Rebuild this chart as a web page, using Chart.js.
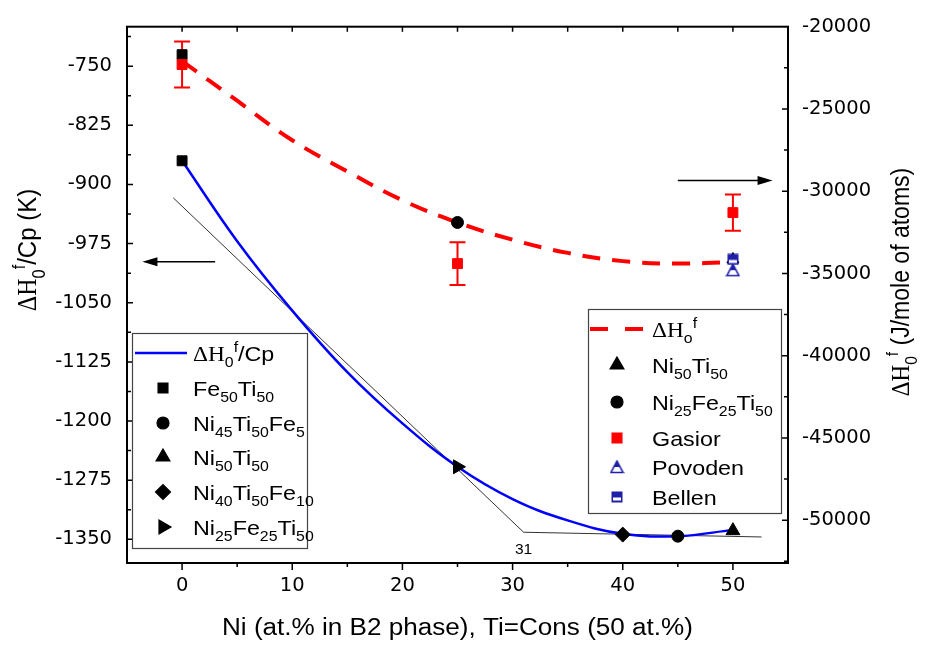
<!DOCTYPE html>
<html>
<head>
<meta charset="utf-8">
<script src="https://cdn.jsdelivr.net/npm/chart.js@4.4.1/dist/chart.umd.min.js"></script>
<style>
  html, body { margin: 0; padding: 0; background: #fff; }
  #graph_1 { display: block; }
</style>
</head>
<body>
<canvas id="graph_1" width="925" height="645"></canvas>
<script>
// axis ticks
var xTicks = [0, 10, 20, 30, 40, 50];
var yLeftTicks = [-750, -825, -900, -975, -1050, -1125, -1200, -1275, -1350];
var yRightTicks = [-20000, -25000, -30000, -35000, -40000, -45000, -50000];

// fitted curves
var fitX = [0, 5, 10, 15, 20, 25, 30, 35, 40, 45, 50];
var fitCp = [-870, -972, -1060, -1138, -1203, -1258, -1299, -1326, -1343, -1346, -1338];
var fitH = [-22100, -24500, -26900, -28800, -30550, -31900, -32950, -33750, -34250, -34400, -34300];

// tangent construction (thin line)
var tangentX = [-0.8, 31, 52.6];
var tangentCp = [-917, -1341, -1347];

// left axis points, dH/Cp (K)
var fe50X = [0], fe50Cp = [-870];
var ni45X = [45], ni45Cp = [-1346];
var ni50X = [50], ni50Cp = [-1339];
var ni40X = [40], ni40Cp = [-1344];
var ni25X = [25], ni25Cp = [-1258];

// right axis points, dH (J/mole of atoms)
var fe50HX = [0], fe50H = [-21700];
var ni50HX = [50], ni50H = [-34150];
var ni25HX = [25], ni25H = [-31900];
var gasiorX = [0, 25, 50], gasiorH = [-22300, -34400, -31300], gasiorErr = [1400, 1300, 1100];
var povodenX = [50], povodenH = [-34800];
var bellenX = [50], bellenH = [-34150];

// axis pointer arrows: [x from, x to, y]
var arrowLeft = [3.0, -3.6, -998];
var arrowRight = [45, 53.6, -29350];
var label31 = [31, -1362];

var SANS = '"Liberation Sans", Arial, sans-serif';
var SERIF = '"Liberation Serif", "Times New Roman", serif';
var STRETCH = 1.11;
var BLUE2 = '#1f1fa8';

function pts(xs, ys) {
  return xs.map(function (x, i) { return { x: x, y: ys[i] }; });
}

// custom marker images
function makePovoden() {
  var c = document.createElement('canvas');
  c.width = 15; c.height = 14;
  var g = c.getContext('2d');
  g.beginPath();
  g.moveTo(7.5, 1); g.lineTo(13.5, 12.5); g.lineTo(1.5, 12.5); g.closePath();
  g.fillStyle = '#fff'; g.fill();
  g.save(); g.clip();
  g.fillStyle = BLUE2; g.fillRect(0, 0, 15, 7);
  g.restore();
  g.lineWidth = 1.6; g.strokeStyle = BLUE2; g.stroke();
  return c;
}
function makeBellen() {
  var c = document.createElement('canvas');
  c.width = 12; c.height = 12;
  var g = c.getContext('2d');
  g.fillStyle = BLUE2; g.fillRect(0.5, 0.5, 11, 11);
  g.fillStyle = '#fff'; g.fillRect(2, 6.5, 8, 3);
  return c;
}
var povodenImg = makePovoden();
var bellenImg = makeBellen();

// text with _{sub} and ^{sup}
function parseRich(str) {
  var out = [], re = /_\{([^}]*)\}|\^\{([^}]*)\}|([^_^]+)/g, m;
  while ((m = re.exec(str))) {
    if (m[1] !== undefined) out.push({ t: m[1], k: 'sub' });
    else if (m[2] !== undefined) out.push({ t: m[2], k: 'sup' });
    else {
      var s = m[3];
      if (s.indexOf('ΔH') === 0) { out.push({ t: 'ΔH', k: 'serif' }); s = s.slice(2); }
      if (s) out.push({ t: s, k: '' });
    }
  }
  return out;
}
function runFont(r, size) {
  var s = (r.k === 'sub' || r.k === 'sup') ? size * 0.68 : size;
  return s.toFixed(1) + 'px ' + (r.k === 'serif' ? SERIF : SANS);
}
function drawRich(c, str, x, y, size, align, rotate) {
  var runs = parseRich(str);
  c.save();
  c.translate(x, y);
  if (rotate) { c.rotate(-Math.PI / 2); c.scale(1, STRETCH); } else { c.scale(STRETCH, 1); }
  var w = 0;
  runs.forEach(function (r) { c.font = runFont(r, size); w += c.measureText(r.t).width; });
  var cx = align === 'center' ? -w / 2 : 0;
  c.textAlign = 'left'; c.textBaseline = 'alphabetic'; c.fillStyle = '#000';
  runs.forEach(function (r) {
    c.font = runFont(r, size);
    var dy = r.k === 'sub' ? size * 0.33 : (r.k === 'sup' ? -size * 0.42 : 0);
    c.fillText(r.t, cx, dy);
    cx += c.measureText(r.t).width;
  });
  c.restore();
}

function arrow(c, x1, x2, y) {
  var dir = x2 > x1 ? 1 : -1;
  c.save();
  c.strokeStyle = '#000'; c.fillStyle = '#000'; c.lineWidth = 1.3;
  c.beginPath(); c.moveTo(x1, y); c.lineTo(x2 - dir * 10, y); c.stroke();
  c.beginPath(); c.moveTo(x2, y); c.lineTo(x2 - dir * 15, y - 4.5); c.lineTo(x2 - dir * 15, y + 4.5); c.closePath(); c.fill();
  c.restore();
}

var leftLegend = [
  { label: 'ΔH_{0}^{f}/Cp', line: { color: '#0000ff', width: 2.5 } },
  { label: 'Fe_{50}Ti_{50}', style: 'rect', r: 7, color: '#000' },
  { label: 'Ni_{45}Ti_{50}Fe_{5}', style: 'circle', r: 6, color: '#000' },
  { label: 'Ni_{50}Ti_{50}', style: 'triangle', r: 8, color: '#000' },
  { label: 'Ni_{40}Ti_{50}Fe_{10}', style: 'rectRot', r: 7.5, color: '#000' },
  { label: 'Ni_{25}Fe_{25}Ti_{50}', style: 'triangle', r: 8, rot: 90, color: '#000' }
];
var rightLegend = [
  { label: 'ΔH_{o}^{f}', line: { color: '#ff0000', width: 4, dash: [18, 17] } },
  { label: 'Ni_{50}Ti_{50}', style: 'triangle', r: 8, color: '#000' },
  { label: 'Ni_{25}Fe_{25}Ti_{50}', style: 'circle', r: 6, color: '#000' },
  { label: 'Gasior', style: 'rect', r: 7, color: '#ff0000' },
  { label: 'Povoden', style: povodenImg, r: 7 },
  { label: 'Bellen', style: bellenImg, r: 6 }
];

function drawLegend(c, items, box, rows, lineX, markX, textX) {
  c.save();
  c.fillStyle = '#fff';
  c.fillRect(box[0], box[1], box[2] - box[0], box[3] - box[1]);
  c.strokeStyle = '#444'; c.lineWidth = 1.2;
  c.strokeRect(box[0] + 0.5, box[1] + 0.5, box[2] - box[0], box[3] - box[1]);
  items.forEach(function (it, i) {
    var y = rows[i];
    if (it.line) {
      c.save();
      c.strokeStyle = it.line.color; c.lineWidth = it.line.width;
      if (it.line.dash) c.setLineDash(it.line.dash);
      c.beginPath(); c.moveTo(lineX[0], y); c.lineTo(lineX[1], y); c.stroke();
      c.restore();
    } else {
      c.fillStyle = it.color || '#000'; c.strokeStyle = it.color || '#000';
      Chart.helpers.drawPoint(c, { pointStyle: it.style, radius: it.r, rotation: it.rot || 0, borderWidth: 1 }, markX, y);
    }
    drawRich(c, it.label, textX, y + 7.5, 21, 'left', false);
  });
  c.restore();
}

var decor = {
  id: 'decor',
  beforeDatasetsDraw: function (chart) {
    var c = chart.ctx;
    var xs = chart.scales.x, yr = chart.scales.y2;
    // gasior error bars
    c.save();
    c.strokeStyle = '#ff0000'; c.lineWidth = 2;
    gasiorX.forEach(function (x, i) {
      var px = xs.getPixelForValue(x);
      var top = yr.getPixelForValue(gasiorH[i] + gasiorErr[i]);
      var bot = yr.getPixelForValue(gasiorH[i] - gasiorErr[i]);
      c.beginPath();
      c.moveTo(px, top); c.lineTo(px, bot);
      c.moveTo(px - 8, top); c.lineTo(px + 8, top);
      c.moveTo(px - 8, bot); c.lineTo(px + 8, bot);
      c.stroke();
    });
    c.restore();
  },
  afterDraw: function (chart) {
    var c = chart.ctx, a = chart.chartArea;
    var xs = chart.scales.x, yl = chart.scales.y, yr = chart.scales.y2;
    c.save();
    c.strokeStyle = '#000'; c.lineWidth = 2;
    c.strokeRect(a.left, a.top, a.right - a.left, a.bottom - a.top);
    c.lineWidth = 1.5;
    c.beginPath();
    var v, p, k;
    for (v = -5; v <= 55; v += 5) {
      p = xs.getPixelForValue(v);
      if (p <= a.left + 1 || p >= a.right - 1) continue;
      var big = v % 10 === 0;
      c.moveTo(p, a.bottom); c.lineTo(p, a.bottom + (big ? 7 : 4));
      c.moveTo(p, a.top); c.lineTo(p, a.top + 5);
    }
    var stepL = (yLeftTicks[0] - yLeftTicks[1]) / 2;
    for (k = -4; k < 30; k++) {
      v = yLeftTicks[0] - k * stepL;
      p = yl.getPixelForValue(v);
      if (p <= a.top + 1 || p >= a.bottom - 1) continue;
      c.moveTo(a.left, p); c.lineTo(a.left + (k % 2 === 0 ? 6 : 4), p);
    }
    var stepR = (yRightTicks[0] - yRightTicks[1]) / 2;
    for (k = -4; k < 30; k++) {
      v = yRightTicks[0] - k * stepR;
      p = yr.getPixelForValue(v);
      if (p <= a.top + 1 || p >= a.bottom - 1) continue;
      c.moveTo(a.right, p); c.lineTo(a.right - (k % 2 === 0 ? 6 : 4), p);
    }
    c.stroke();
    c.restore();

    // pointer arrows
    arrow(c, xs.getPixelForValue(arrowLeft[0]), xs.getPixelForValue(arrowLeft[1]), yl.getPixelForValue(arrowLeft[2]));
    arrow(c, xs.getPixelForValue(arrowRight[0]), xs.getPixelForValue(arrowRight[1]), yr.getPixelForValue(arrowRight[2]));

    // "31" mark
    drawRich(c, '31', xs.getPixelForValue(label31[0]), yl.getPixelForValue(label31[1]) + 5, 14, 'center', false);

    // legends
    drawLegend(c, leftLegend, [132, 333, 307, 548], [353, 388, 423, 457, 492, 527], [135, 187], 163, 193);
    drawLegend(c, rightLegend, [588, 309, 781, 513], [329, 365, 402, 438, 467, 497], [590, 645], 617, 652);

    // axis titles
    drawRich(c, 'ΔH_{0}^{f}/Cp (K)', 36, 250, 24, 'center', true);
    drawRich(c, 'ΔH_{0}^{f} (J/mole of atoms)', 909, 282, 23, 'center', true);
    drawRich(c, 'Ni (at.% in B2 phase), Ti=Cons (50 at.%)', (a.left + a.right) / 2, 635, 23.5, 'center', false);
  }
};

var tickFont = { family: '"DejaVu Sans", sans-serif', size: 19.5 };
var plain = function (v) { return String(v); };

var ctx = document.getElementById('graph_1');
var chart = new Chart(ctx, {
  type: 'scatter',
  data: {
    datasets: [
      { data: pts(fe50X, fe50Cp), yAxisID: 'y', pointStyle: 'rect', pointRadius: 7, backgroundColor: '#000', borderColor: '#000', order: 1 },
      { data: pts(ni45X, ni45Cp), yAxisID: 'y', pointStyle: 'circle', pointRadius: 6, backgroundColor: '#000', borderColor: '#000', order: 1 },
      { data: pts(ni50X, ni50Cp), yAxisID: 'y', pointStyle: 'triangle', pointRadius: 8, backgroundColor: '#000', borderColor: '#000', order: 1 },
      { data: pts(ni40X, ni40Cp), yAxisID: 'y', pointStyle: 'rectRot', pointRadius: 7.5, backgroundColor: '#000', borderColor: '#000', order: 1 },
      { data: pts(ni25X, ni25Cp), yAxisID: 'y', pointStyle: 'triangle', rotation: 90, pointRadius: 8, backgroundColor: '#000', borderColor: '#000', order: 1 },
      { data: pts(bellenX, bellenH), yAxisID: 'y2', pointStyle: bellenImg, pointRadius: 6, order: 1 },
      { data: pts(povodenX, povodenH), yAxisID: 'y2', pointStyle: povodenImg, pointRadius: 7, order: 2 },
      { data: pts(ni50HX, ni50H), yAxisID: 'y2', pointStyle: 'triangle', pointRadius: 7, backgroundColor: '#000', borderColor: '#000', order: 3 },
      { data: pts(ni25HX, ni25H), yAxisID: 'y2', pointStyle: 'circle', pointRadius: 6, backgroundColor: '#000', borderColor: '#000', order: 1 },
      { data: pts(gasiorX, gasiorH), yAxisID: 'y2', pointStyle: 'rect', pointRadius: 7, backgroundColor: '#ff0000', borderColor: '#ff0000', order: 2 },
      { data: pts(fe50HX, fe50H), yAxisID: 'y2', pointStyle: 'rect', pointRadius: 7, backgroundColor: '#000', borderColor: '#000', order: 4 },
      { data: pts(fitX, fitCp), yAxisID: 'y', showLine: true, borderColor: '#0000ff', borderWidth: 2.5, pointRadius: 0, tension: 0.4, order: 6 },
      { data: pts(fitX, fitH), yAxisID: 'y2', showLine: true, borderColor: '#ff0000', borderWidth: 4, borderDash: [18, 12], pointRadius: 0, tension: 0.4, order: 6 },
      { data: pts(tangentX, tangentCp), yAxisID: 'y', showLine: true, borderColor: '#333', borderWidth: 1, pointRadius: 0, tension: 0, order: 7 }
    ]
  },
  options: {
    responsive: false,
    animation: false,
    layout: { padding: { top: 20, left: 0, right: 0, bottom: 0 } },
    plugins: { legend: { display: false }, tooltip: { enabled: false } },
    scales: {
      x: {
        type: 'linear', min: -5, max: 55, position: 'bottom',
        grid: { display: false, drawTicks: false }, border: { display: false },
        ticks: { color: '#000', font: tickFont, padding: 11, maxRotation: 0, callback: plain },
        afterBuildTicks: function (s) { s.ticks = xTicks.map(function (v) { return { value: v }; }); },
        afterFit: function (s) { s.height = 82; }
      },
      y: {
        type: 'linear', min: -1380, max: -700, position: 'left',
        grid: { display: false, drawTicks: false }, border: { display: false },
        ticks: { color: '#000', font: tickFont, padding: 15, callback: plain },
        afterBuildTicks: function (s) { s.ticks = yLeftTicks.map(function (v) { return { value: v }; }); },
        afterFit: function (s) { s.width = 127; }
      },
      y2: {
        type: 'linear', min: -52600, max: -20000, position: 'right',
        grid: { display: false, drawTicks: false }, border: { display: false },
        ticks: { color: '#000', font: tickFont, padding: 14, callback: plain },
        afterBuildTicks: function (s) { s.ticks = yRightTicks.map(function (v) { return { value: v }; }); },
        afterFit: function (s) { s.width = 137; }
      }
    }
  },
  plugins: [decor]
});
</script>
</body>
</html>
